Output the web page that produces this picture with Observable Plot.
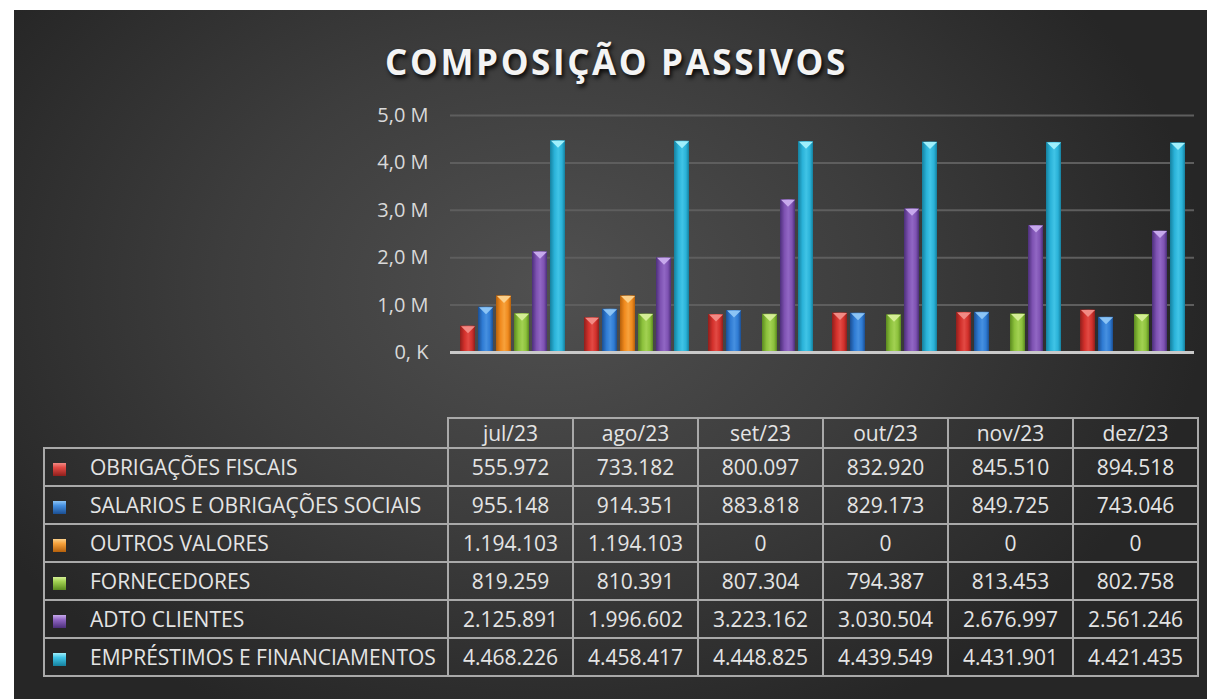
<!DOCTYPE html>
<html><head><meta charset="utf-8">
<script src="https://cdn.jsdelivr.net/npm/d3@7"></script>
<script src="https://cdn.jsdelivr.net/npm/@observablehq/plot@0.6"></script>
<style>
html,body{margin:0;padding:0;background:#fff;}
body{width:1207px;height:699px;overflow:hidden;position:relative;font-family:"Open Sans",sans-serif;}
#panel{position:absolute;left:14px;top:10px;width:1193px;height:689px;overflow:hidden;
  background:radial-gradient(ellipse 55% 70% at 45% 40%, #505050 0%, #3d3d3d 50%, #262626 100%);}
#title{position:absolute;left:6px;width:100%;top:28px;line-height:35px;text-align:center;color:#f4f4f4;
  font:700 35px "Open Sans";letter-spacing:2.6px;text-shadow:2px 3px 4px rgba(0,0,0,.85);}
#chart{position:absolute;left:0;top:80px;}
#tbl{position:absolute;left:29px;top:407px;border-collapse:collapse;table-layout:fixed;color:#e4e4e4;
  font:400 21px "Open Sans";}
#tbl td{border:2px solid #a9a9a9;padding:0;height:36px;text-align:center;white-space:nowrap;overflow:hidden;}
#tbl tr.hd td{height:28px;}
#tbl td.corner{border-top:none;border-left:none;}
#tbl td.lab{text-align:left;}
.mk{display:inline-block;width:13px;height:13px;margin:0 24px 0 8px;vertical-align:-1px;}
</style></head>
<body>
<div id="panel">
  <div id="title"></div>
  <div id="chart"></div>
  <table id="tbl"></table>
</div>
<script>
const titleText = "COMPOSIÇÃO PASSIVOS";
const months = ["jul/23","ago/23","set/23","out/23","nov/23","dez/23"];
const series = ["OBRIGAÇÕES FISCAIS","SALARIOS E OBRIGAÇÕES SOCIAIS","OUTROS VALORES","FORNECEDORES","ADTO CLIENTES","EMPRÉSTIMOS E FINANCIAMENTOS"];
const obrigacoesFiscais = [555972, 733182, 800097, 832920, 845510, 894518];
const salariosObrigacoesSociais = [955148, 914351, 883818, 829173, 849725, 743046];
const outrosValores = [1194103, 1194103, 0, 0, 0, 0];
const fornecedores = [819259, 810391, 807304, 794387, 813453, 802758];
const adtoClientes = [2125891, 1996602, 3223162, 3030504, 2676997, 2561246];
const emprestimosFinanciamentos = [4468226, 4458417, 4448825, 4439549, 4431901, 4421435];
const yTicks = [0, 1000000, 2000000, 3000000, 4000000, 5000000];

const values = [obrigacoesFiscais, salariosObrigacoesSociais, outrosValores, fornecedores, adtoClientes, emprestimosFinanciamentos];
// [dark edge, base, highlight, triangle]
const palette = [
  ["#8e1f1c", "#d2302b", "#e24a44", "#f28a84"],
  ["#1b4f93", "#2f7bd3", "#4690e0", "#8cc4f5"],
  ["#b5600b", "#f08a1e", "#f7a23c", "#fcd08a"],
  ["#5b8a1f", "#8cc13c", "#a2d152", "#d4ee95"],
  ["#4c2f7a", "#7e52b2", "#9167c4", "#c7a9ec"],
  ["#15809e", "#2ab2d8", "#40c4e6", "#9ff0fc"]
];

const data = series.flatMap((s, i) => months.map((m, j) => ({month: m, series: s, value: values[i][j]})));

document.getElementById("title").textContent = titleText;

const flatTri = {draw(ctx) { ctx.moveTo(-7, -3); ctx.lineTo(7, -3); ctx.lineTo(0, 4); ctx.closePath(); }};

const chart = Plot.plot({
  width: 1193,
  height: 277,
  marginLeft: 433,
  marginRight: 11,
  marginTop: 25,
  marginBottom: 15,
  style: {background: "transparent", color: "#d9d9d9", fontSize: "20px", fontFamily: "Open Sans", overflow: "visible"},
  fx: {domain: months, axis: null, padding: 0},
  x: {domain: series, axis: null, paddingInner: 0.18, paddingOuter: 0.4},
  y: {domain: [0, 5000000], ticks: yTicks, tickSize: 0, tickPadding: 22, label: null,
      tickFormat: d => d === 0 ? "0, K" : (d / 1e6).toFixed(1).replace(".", ",") + " M"},
  color: {domain: series, range: series.map((_, i) => `url(#grad${i})`)},
  marks: [
    Plot.ruleY(yTicks.filter(t => t > 0), {stroke: "#5e5e5e", strokeWidth: 2}),
    Plot.barY(data, {fx: "month", x: "series", y: "value", fill: "series"}),
    ...series.map((s, i) => Plot.dot(data.filter(d => d.series === s && d.value > 0),
      {fx: "month", x: "series", y: "value", symbol: flatTri, r: 4, fill: palette[i][3], stroke: "none", dy: 3})),
    Plot.ruleY([0], {stroke: "#c9c9c9", strokeWidth: 3})
  ]
});

// gradients for cylinder-like bars
const defs = d3.select(chart).insert("defs", ":first-child");
palette.forEach((p, i) => {
  const g = defs.append("linearGradient").attr("id", `grad${i}`).attr("x1", 0).attr("x2", 1).attr("y1", 0).attr("y2", 0);
  g.append("stop").attr("offset", "0%").attr("stop-color", p[0]);
  g.append("stop").attr("offset", "30%").attr("stop-color", p[1]);
  g.append("stop").attr("offset", "55%").attr("stop-color", p[2]);
  g.append("stop").attr("offset", "80%").attr("stop-color", p[1]);
  g.append("stop").attr("offset", "100%").attr("stop-color", p[0]);
});
document.getElementById("chart").appendChild(chart);

// data table
const fmt = v => v.toLocaleString("de-DE");
const tbl = d3.select("#tbl");
const cg = tbl.append("colgroup");
cg.append("col").style("width", "404px");
months.forEach(() => cg.append("col").style("width", "125px"));
const hr = tbl.append("tr").attr("class", "hd");
hr.append("td").attr("class", "corner");
months.forEach(m => hr.append("td").text(m));
series.forEach((s, i) => {
  const tr = tbl.append("tr");
  const lab = tr.append("td").attr("class", "lab");
  lab.append("span").attr("class", "mk")
    .style("background", `linear-gradient(180deg, ${palette[i][3]} 0%, ${palette[i][2]} 35%, ${palette[i][0]} 100%)`);
  lab.append("span").text(s);
  values[i].forEach(v => tr.append("td").text(fmt(v)));
});
</script>
</body></html>
